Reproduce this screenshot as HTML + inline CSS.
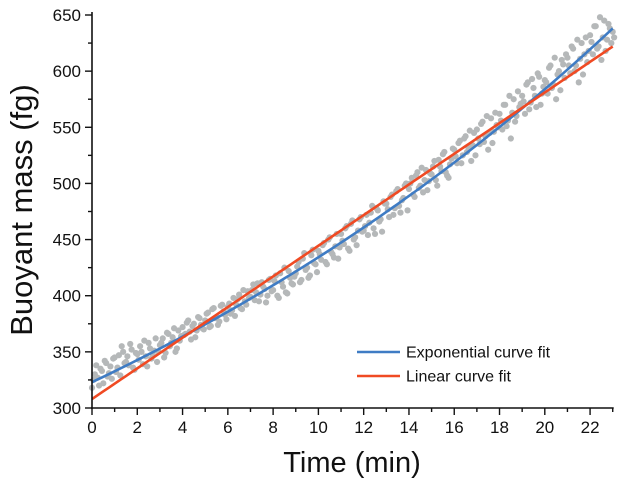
<!DOCTYPE html>
<html><head><meta charset="utf-8"><style>
html,body{margin:0;padding:0;background:#fff;}
svg{display:block;font-family:"Liberation Sans",Arial,sans-serif;}
</style></head><body>
<svg id="chart" width="620" height="484" viewBox="0 0 620 484" xmlns="http://www.w3.org/2000/svg">
<g id="dots"></g>
<g id="fits"></g>
<g id="axes"></g>
<g>
  <line x1="357" y1="352" x2="400" y2="352" stroke="#3f7cc4" stroke-width="2.5"/>
  <text x="406" y="357.5" font-size="16" fill="#111">Exponential curve fit</text>
  <line x1="357" y1="376" x2="400" y2="376" stroke="#f04a23" stroke-width="2.5"/>
  <text x="406" y="381.5" font-size="16" fill="#111">Linear curve fit</text>
</g>
<text x="352" y="472" font-size="29" text-anchor="middle" fill="#111">Time (min)</text>
<text transform="translate(32,210) rotate(-90)" font-size="31" text-anchor="middle" fill="#111">Buoyant mass (fg)</text>
</svg>
<script>
const massValues = [
318,330,327,335,322,340,331,326,
345,336,329,350,341,338,352,334,
348,355,339,346,358,344,351,341,
356,362,349,366,358,371,353,360,
372,366,378,361,375,369,380,371,
378,385,373,389,381,377,392,383,
390,384,398,392,401,388,395,404,
399,410,403,395,412,406,400,415,
405,418,398,412,425,402,416,410,
420,430,414,438,425,418,441,428,
440,432,447,428,452,437,444,433,
455,446,462,440,467,452,458,470,
458,472,465,480,455,476,468,484,
482,470,490,478,495,474,487,500,
495,505,488,510,498,492,512,502,
508,520,498,515,526,510,505,522,
530,518,538,525,542,532,520,545,
548,535,555,542,530,558,546,552,
562,548,570,556,540,575,560,568,
578,562,590,572,585,568,595,580,
592,580,605,588,575,600,610,594,
612,598,620,605,590,625,615,608,
632,615,640,622,610,645,628,638,
635];
const massValues2 = [
325,338,320,333,342,328,337,344,
332,347,355,340,346,357,336,349,
343,350,360,337,353,347,362,350,
358,345,367,355,363,350,369,364,
365,376,368,373,363,381,374,370,
384,372,388,380,374,391,386,379,
393,387,382,397,389,405,392,398,
405,396,411,401,408,394,414,404,
413,400,420,408,403,422,411,417,
426,412,433,423,416,436,429,421,
437,445,430,450,439,434,455,443,
449,460,442,464,450,445,468,457,
462,454,474,460,478,466,457,482,
477,488,472,493,480,485,498,476,
500,490,507,496,514,503,494,509,
515,503,521,511,528,507,517,531,
524,536,518,540,528,547,534,525,
540,553,537,560,545,536,563,550,
556,570,551,578,563,555,582,571,
573,588,566,593,578,598,570,586,
590,603,585,612,597,583,606,615,
605,622,600,628,611,597,630,618,
626,640,620,648,630,618,642,625,
630];
const timeStep = 0.125;
const expParams = [323, 0.0296];
const linParams = [308, 13.65];
const xTickLabels = [0,2,4,6,8,10,12,14,16,18,20,22];
const yTickLabels = [300,350,400,450,500,550,600,650];

const X0=92, PXPERMIN=22.64, Y0=408, PXPERFG=(408-15)/350;
function xs(t){return X0+t*PXPERMIN;}
function ys(v){return Y0-(v-300)*PXPERFG;}
const NS="http://www.w3.org/2000/svg";
function mk(tag,attrs,parent){const e=document.createElementNS(NS,tag);for(const k in attrs)e.setAttribute(k,attrs[k]);parent.appendChild(e);return e;}

const dots=document.getElementById('dots');
massValues.forEach((v,i)=>{
  const c=mk('circle',{cx:xs(i*timeStep),cy:ys(v),r:3.1,fill:'#b5b8b9'},dots);
  
  
});
massValues2.forEach((v,i)=>{
  const c=mk('circle',{cx:xs(i*timeStep+timeStep/2),cy:ys(v),r:3.1,fill:'#b5b8b9'},dots);
  
  
});

const fits=document.getElementById('fits');
let pe=[],pl=[];
for(let t=0;t<=23.001;t+=0.25){
  pe.push(xs(t)+','+ys(expParams[0]*Math.exp(expParams[1]*t)));
  pl.push(xs(t)+','+ys(linParams[0]+linParams[1]*t));
}
const le=mk('polyline',{points:pe.join(' '),fill:'none',stroke:'#3f7cc4','stroke-width':2.6},fits);


const ll=mk('polyline',{points:pl.join(' '),fill:'none',stroke:'#f04a23','stroke-width':2.6},fits);



const axes=document.getElementById('axes');
mk('line',{x1:X0,y1:12,x2:X0,y2:Y0+1,stroke:'#111','stroke-width':1.6},axes);
mk('line',{x1:X0-1,y1:Y0,x2:xs(23)+1,y2:Y0,stroke:'#111','stroke-width':1.6},axes);
for(let t=0;t<=23;t++){
  const major=t%2===0;
  mk('line',{x1:xs(t),y1:Y0,x2:xs(t),y2:Y0+(major?7:4),stroke:'#111','stroke-width':1.4},axes);
}
xTickLabels.forEach(t=>{
  const e=mk('text',{x:xs(t),y:Y0+25,'font-size':17,'text-anchor':'middle',fill:'#111'},axes);
  e.textContent=t;
  
  
});
for(let v=300;v<=650;v+=25){
  const major=v%50===0;
  mk('line',{x1:X0,y1:ys(v),x2:X0-(major?7:4),y2:ys(v),stroke:'#111','stroke-width':1.4},axes);
}
yTickLabels.forEach(v=>{
  const e=mk('text',{x:X0-11,y:ys(v)+6,'font-size':17,'text-anchor':'end',fill:'#111'},axes);
  e.textContent=v;
  
  
});
</script>
</body></html>
